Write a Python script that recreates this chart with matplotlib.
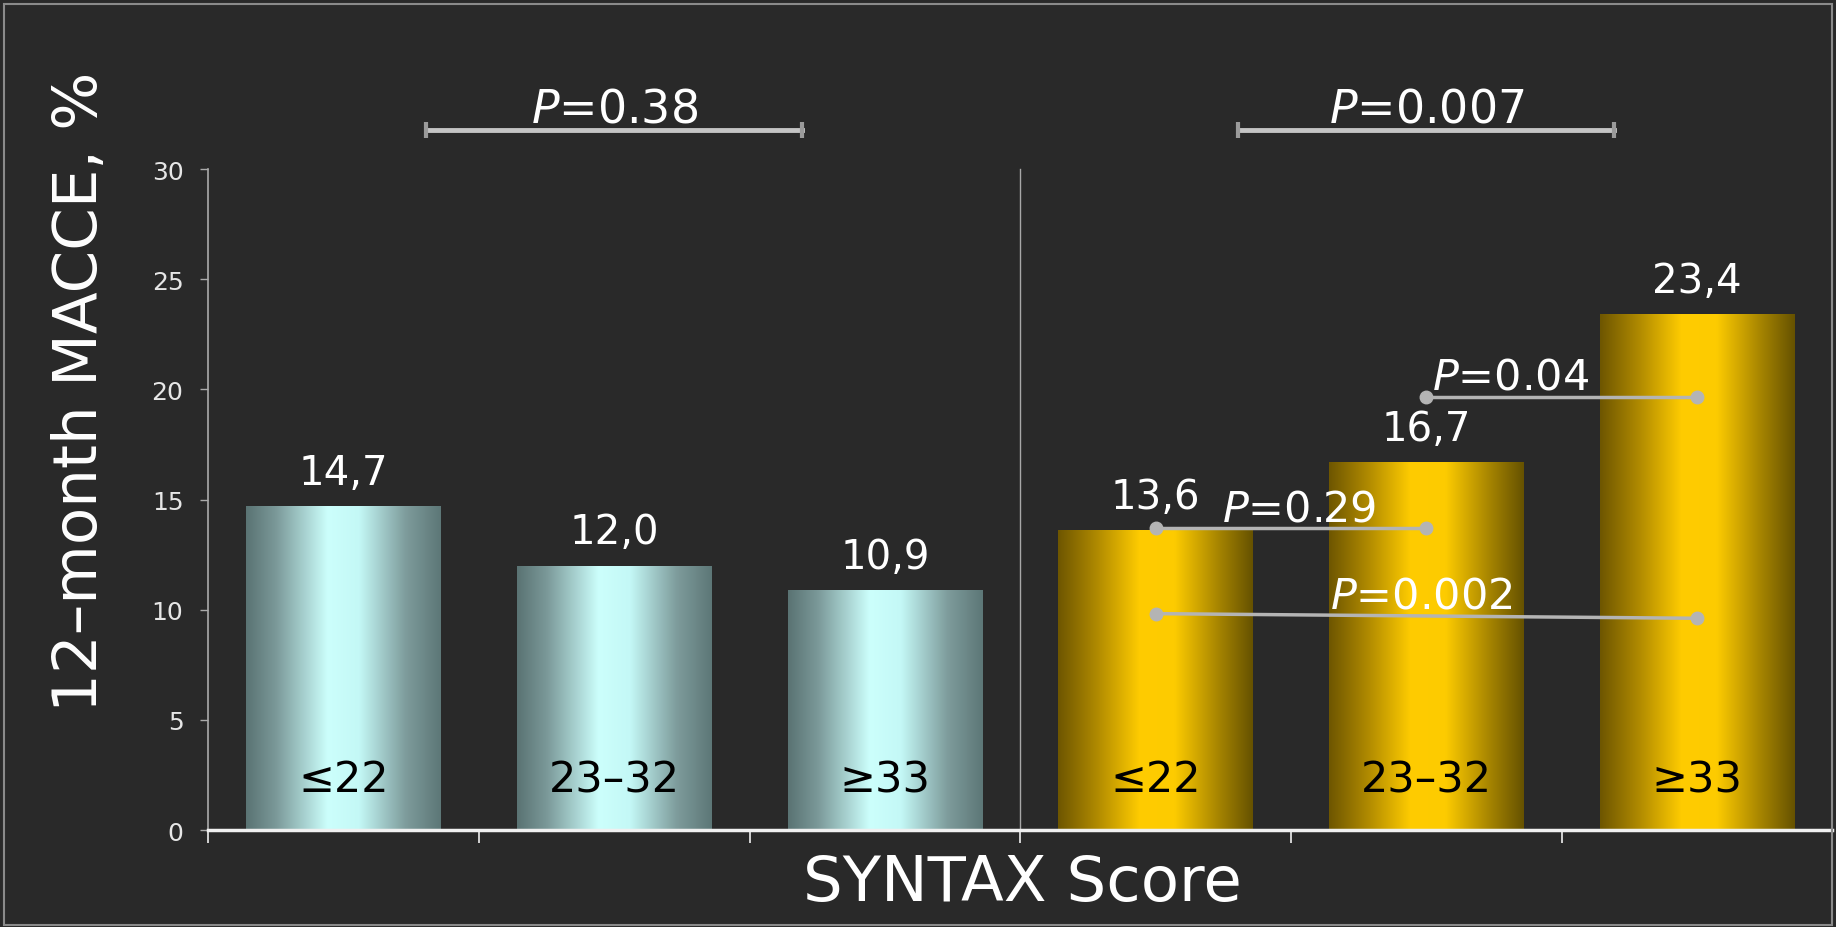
import numpy as np
import matplotlib
matplotlib.use('Agg')
import matplotlib.pyplot as plt
from matplotlib.colors import LinearSegmentedColormap
from matplotlib.patches import Rectangle

# 12-month MACCE by SYNTAX score tercile, PCI (left) and CABG (right)
categories = ['≤22', '23–32', '≥33']
pci_macce = [14.7, 12.0, 10.9]
cabg_macce = [13.6, 16.7, 23.4]

# overall trend p-values for each arm
trend_p = ['0.38', '0.007']
# pairwise comparisons inside the CABG arm: (from bar, to bar, y start, y end, p)
pair_from = [3, 4, 3]
pair_to = [4, 5, 5]
pair_y0 = [13.7, 19.65, 9.82]
pair_y1 = [13.7, 19.65, 9.61]
pair_p = ['0.29', '0.04', '0.002']
pair_label_x = [3.53, 4.31, 3.98]
pair_label_y = [14.07, 20.06, 10.08]

BG = '#292929'

cyan_map = LinearSegmentedColormap.from_list('cyan', [
    (0.0, '#5a7373'), (0.15, '#7a9898'), (0.42, '#ccfffc'),
    (0.58, '#c4f8f6'), (0.82, '#7e9c9c'), (1.0, '#5d7777')])
gold_map = LinearSegmentedColormap.from_list('gold', [
    (0.0, '#6e5600'), (0.2, '#b08a00'), (0.42, '#ffcc00'),
    (0.6, '#fdcb00'), (0.82, '#a88600'), (1.0, '#665200')])


def gradient_bar(ax, bar, cmap):
    x, w, h = bar.get_x(), bar.get_width(), bar.get_height()
    grad = np.linspace(0, 1, 256).reshape(1, -1)
    im = ax.imshow(grad, cmap=cmap, extent=[x, x + w, 0, h], aspect='auto',
                   interpolation='bicubic', zorder=2)
    im.set_clip_path(bar)


fig = plt.figure(figsize=(18.36, 9.28), dpi=100, facecolor=BG)
ax = fig.add_axes([0.1135, 0.1045, 0.8845, 0.7123])
ax.set_facecolor(BG)

values = pci_macce + cabg_macce
xpos = np.arange(len(values))
bars = ax.bar(xpos, values, width=0.72, color='none', edgecolor='none', zorder=2)
for i, bar in enumerate(bars):
    gradient_bar(ax, bar, cyan_map if i < 3 else gold_map)

ax.set_xlim(-0.5, 5.5)
ax.set_ylim(0, 30)

# value labels with decimal comma
for x, v in zip(xpos, values):
    ax.annotate(f'{v:.1f}'.replace('.', ','), (x, v), xytext=(0, 16),
                textcoords='offset points', ha='center', va='baseline',
                color='white', fontsize=29, zorder=5)

# category names inside the bars
for x, name in zip(xpos, categories * 2):
    ax.text(x, 1.75, name, ha='center', va='baseline', color='black',
            fontsize=31, zorder=5)

# divider between the two arms
ax.plot([2.5, 2.5], [0, 30], color='#a8a8a8', lw=1, zorder=1, clip_on=False)

# trend p-values above each arm
for c, p in zip([1, 4], trend_p):
    ax.plot([c - 0.695, c + 0.695], [31.75, 31.75], color='#c4c4c4', lw=3.5,
            marker='|', ms=11, mew=3, mec='#9a9a9a', clip_on=False, zorder=5)
    ax.text(c, 32.15, r'$\mathit{P}$=' + p, ha='center', va='baseline',
            color='white', fontsize=33)

# pairwise comparisons
for a, b, y0, y1, p, lx, ly in zip(pair_from, pair_to, pair_y0, pair_y1,
                                   pair_p, pair_label_x, pair_label_y):
    ax.plot([a, b], [y0, y1], color='#b4b4b4', lw=2.5, marker='o', ms=9,
            zorder=6)
    ax.text(lx, ly, r'$\mathit{P}$=' + p, ha='center', va='baseline',
            color='white', fontsize=31, zorder=6)

# axes styling
for s in ['top', 'right']:
    ax.spines[s].set_visible(False)
ax.spines['left'].set_color('#aaaaaa')
ax.spines['left'].set_linewidth(1.2)
ax.spines['bottom'].set_color('#f0f0f0')
ax.spines['bottom'].set_linewidth(2.5)

ax.set_yticks(range(0, 31, 5))
ax.tick_params(axis='y', direction='out', length=6, width=1, colors='#aaaaaa',
               labelcolor='#e6e6e6', labelsize=18, pad=12)
ax.set_xticks(np.arange(-0.5, 6, 1))
ax.set_xticklabels([])
ax.tick_params(axis='x', direction='out', length=9, width=1.2, colors='#f0f0f0')

fig.text(0.0436, 0.5776, '12–month MACCE, %', rotation=90, ha='center',
         va='center', color='white', fontsize=44)
fig.text(0.557, 0.047, 'SYNTAX Score', ha='center', va='center',
         color='white', fontsize=45)

# thin frame round the slide
fig.patches.append(Rectangle((0.002, 0.002), 0.996, 0.993, transform=fig.transFigure,
                             fill=False, edgecolor='#8a8a8a', lw=1.5))

fig.savefig('out.png', dpi=100, facecolor=BG)
